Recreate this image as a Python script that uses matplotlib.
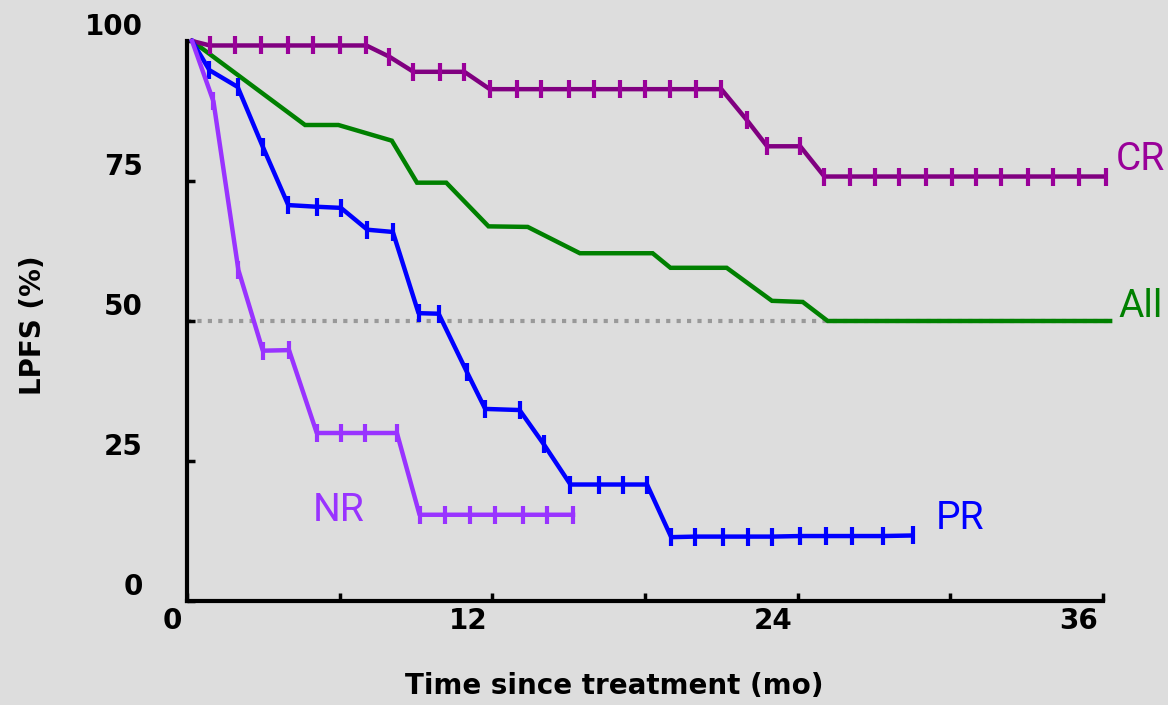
import matplotlib
matplotlib.use('Agg')
import matplotlib.pyplot as plt
from matplotlib.transforms import ScaledTranslation

# Time (months) and LPFS (%)
cr_t = [0.2, 0.9, 1.9, 2.9, 3.95, 4.95, 6.0, 7.05, 7.95, 8.9, 9.95, 10.9, 11.9,
        12.95, 13.9, 15.0, 16.0, 17.0, 18.0, 19.0, 20.0, 21.0, 22.0, 22.8, 24.1,
        25.05, 26.05, 27.05, 28.0, 29.05, 30.05, 31.0, 32.0, 33.05, 34.05, 35.05, 36.1]
cr_v = [100, 99.2, 99.2, 99.2, 99.2, 99.2, 99.2, 99.2, 97.2, 94.5, 94.5, 94.5, 91.4,
        91.4, 91.4, 91.4, 91.4, 91.4, 91.4, 91.4, 91.4, 91.4, 85.9, 81.2, 81.2,
        75.8, 75.8, 75.8, 75.8, 75.8, 75.8, 75.8, 75.8, 75.8, 75.8, 75.8, 75.8]

pr_t = [0.2, 0.88, 1.99, 2.98, 3.98, 5.1, 6.05, 7.09, 8.09, 9.1, 9.89, 11.0, 11.72,
        13.07, 14.02, 15.07, 16.2, 17.14, 18.08, 19.03, 19.97, 21.05, 22.04, 23.0,
        24.11, 25.1, 26.15, 27.35, 28.52]
pr_v = [100, 94.8, 91.8, 81.1, 70.7, 70.4, 70.2, 66.3, 65.9, 51.4, 51.3, 40.9, 34.3,
        34.1, 28.0, 20.8, 20.8, 20.8, 20.8, 11.4, 11.5, 11.5, 11.5, 11.5,
        11.6, 11.6, 11.6, 11.6, 11.7]

nr_t = [0.2, 1.04, 2.02, 2.98, 4.01, 5.1, 6.05, 7.0, 8.25, 9.14, 10.13, 11.14,
        12.1, 13.21, 14.15, 15.17]
nr_v = [100, 89.2, 59.1, 44.7, 44.8, 30.0, 30.0, 30.0, 30.0, 15.4, 15.4, 15.4,
        15.4, 15.4, 15.4, 15.4]

all_t = [0.2, 4.64, 5.95, 8.05, 9.04, 10.19, 11.85, 13.39, 15.44, 18.3, 19.0,
         21.21, 22.99, 24.2, 25.18, 36.28]
all_v = [100, 85.0, 85.0, 82.2, 74.7, 74.7, 66.9, 66.8, 62.1, 62.1, 59.5,
         59.5, 53.6, 53.4, 50.0, 50.0]

median_level = 50
x_ticks = [0, 6, 12, 18, 24, 30, 36]
x_labels = ['0', '', '12', '', '24', '', '36']
y_ticks = [0, 25, 50, 75, 100]

bg = '#dddddd'
fig = plt.figure(figsize=(11.68, 7.05), dpi=100, facecolor=bg)
ax = fig.add_axes([187 / 1168, 104 / 705, 916 / 1168, 560 / 705], facecolor=bg)

ax.hlines(median_level, 0, all_t[-1], colors='#999999', linewidth=3.0,
          linestyles=(0, (1, 1.5)), zorder=1, clip_on=False)

lw = 3.2
ax.plot(all_t, all_v, color='#008000', linewidth=lw, solid_joinstyle='miter',
        zorder=2, clip_on=False)
ax.plot(cr_t, cr_v, color='#800080', linewidth=lw, zorder=3, clip_on=False)
ax.plot(cr_t[1:], cr_v[1:], ls='none', marker='|', markersize=12.5,
        markeredgewidth=3.0, color='#990099', zorder=3, clip_on=False)
ax.plot(pr_t, pr_v, color='#0000ff', linewidth=lw, zorder=4, clip_on=False)
ax.plot(pr_t[1:], pr_v[1:], ls='none', marker='|', markersize=12.5,
        markeredgewidth=3.0, color='#0000ff', zorder=4, clip_on=False)
ax.plot(nr_t, nr_v, color='#9933ff', linewidth=lw, zorder=5, clip_on=False)
ax.plot(nr_t[1:], nr_v[1:], ls='none', marker='|', markersize=12.5,
        markeredgewidth=3.0, color='#9933ff', zorder=5, clip_on=False)

lab = dict(fontsize=28, family='Roboto', va='baseline', ha='left')
ax.text(36.5, 77.0, 'CR', color='#990099', **lab)
ax.text(36.62, 50.7, 'All', color='#008000', **lab)
ax.text(29.43, 12.8, 'PR', color='#0000ff', **lab)
ax.text(4.94, 14.3, 'NR', color='#9933ff', **lab)

ax.set_xlim(0, 36)
ax.set_ylim(0, 100)
for s in ['top', 'right']:
    ax.spines[s].set_visible(False)
for s in ['left', 'bottom']:
    ax.spines[s].set_linewidth(3.0)
    ax.spines[s].set_capstyle('projecting')

ax.set_xticks(x_ticks)
ax.set_xticklabels(x_labels)
ax.set_yticks(y_ticks)
ax.set_yticklabels([str(v) for v in y_ticks])
ax.tick_params(axis='both', direction='in', length=6, width=2.5,
               labelsize=20)
ax.tick_params(axis='y', pad=32)
ax.tick_params(axis='x', pad=4)

up = ScaledTranslation(0, 17 / 100, fig.dpi_scale_trans)
for t in ax.get_yticklabels():
    t.set_fontweight('bold')
    t.set_transform(t.get_transform() + up)
left = ScaledTranslation(-5 / 100, 0, fig.dpi_scale_trans)
for t in ax.get_xticklabels():
    t.set_fontweight('bold')
    t.set_horizontalalignment('right')
    t.set_transform(t.get_transform() + left)

fig.text(614 / 1168, 1 - 686 / 705, 'Time since treatment (mo)', fontsize=20,
         fontweight='bold', ha='center', va='center')
fig.text(33 / 1168, 1 - 325 / 705, 'LPFS (%)', fontsize=20, fontweight='bold',
         rotation=90, ha='center', va='center')

fig.savefig('out.png', dpi=100, facecolor=bg)
